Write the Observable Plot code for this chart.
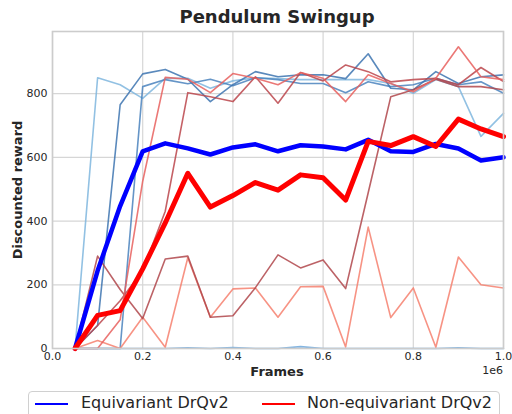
<!DOCTYPE html>
<html>
<head>
<meta charset="utf-8">
<script src="https://cdn.jsdelivr.net/npm/d3@7"></script>
<script src="https://cdn.jsdelivr.net/npm/@observablehq/plot@0.6"></script>
<style>
  html, body { margin: 0; padding: 0; background: #fff; }
  body { font-family: "DejaVu Sans", sans-serif; color: #262626; }
  #wrap { position: relative; width: 512px; height: 414px; overflow: hidden; }
  #chart { position: absolute; left: 0; top: 0; }
  .abs { position: absolute; white-space: nowrap; }
  #title { left: 0; width: 554px; top: 6px; text-align: center; font-size: 18px; font-weight: bold; color: #262626; }
  #xlab { left: 0; width: 554px; top: 364px; text-align: center; font-size: 13px; font-weight: bold; }
  #offset { right: 9px; top: 364px; font-size: 11px; }
  #ylab { left: 17px; top: 190px; font-size: 13px; font-weight: bold; transform: translate(-50%, -50%) rotate(-90deg); }
  #legend { left: 28px; top: 391px; width: 472px; height: 40px; border: 1px solid #d0d0d0; border-radius: 4px; background: #fff; box-sizing: border-box; }
  .sw { position: absolute; top: 11px; width: 33px; height: 1.5px; }
  .lt { position: absolute; top: 1px; font-size: 16px; }
</style>
</head>
<body>
<div id="wrap">
  <div id="chart"></div>
  <div id="title" class="abs">Pendulum Swingup</div>
  <div id="xlab" class="abs">Frames</div>
  <div id="offset" class="abs">1e6</div>
  <div id="ylab" class="abs">Discounted reward</div>
  <div id="legend" class="abs">
    <div class="sw" style="left:6px;background:#0000ff"></div>
    <div class="lt" style="left:52px">Equivariant DrQv2</div>
    <div class="sw" style="left:233px;background:#ff0000"></div>
    <div class="lt" style="left:278px">Non-equivariant DrQv2</div>
  </div>
</div>
<script>
// Frames (x values)
const frames = [50000, 100000, 150000, 200000, 250000, 300000, 350000, 400000, 450000, 500000,
                550000, 600000, 650000, 700000, 750000, 800000, 850000, 900000, 950000, 1000000];

// Equivariant DrQv2 — individual seeds
const eqSeed1 = [0, 850, 828, 785, 848, 848, 817, 840, 850, 847, 844, 844, 844, 844, 832, 801, 844, 822, 666, 738];
const eqSeed2 = [0, 72, 765, 862, 876, 845, 775, 828, 869, 853, 859, 859, 847, 925, 817, 812, 869, 832, 853, 859];
const eqSeed3 = [0, 0, 0, 822, 844, 831, 845, 825, 850, 844, 832, 832, 803, 837, 822, 828, 848, 828, 837, 801];
const eqSeed4 = [0, 0, 0, 0, 0, 2, 0, 3, 0, 0, 6, 0, 0, 0, 0, 0, 0, 2, 0, 0];
// Equivariant DrQv2 — mean
const eqMean = [0, 244, 447, 619, 644, 628, 609, 631, 641, 619, 638, 634, 625, 655, 619, 617, 642, 628, 590, 600];

// Non-equivariant DrQv2 — individual seeds
const neSeed1 = [0, 0, 90, 525, 851, 845, 803, 863, 848, 828, 866, 848, 775, 859, 832, 806, 848, 947, 853, 844];
const neSeed2 = [0, 72, 150, 244, 431, 803, 790, 775, 853, 770, 866, 840, 890, 869, 837, 844, 848, 828, 882, 838];
const neSeed3 = [0, 290, 185, 94, 281, 290, 98, 103, 191, 294, 253, 278, 188, 489, 790, 812, 845, 822, 822, 812];
const neSeed4 = [0, 25, 0, 98, 4, 285, 98, 187, 190, 98, 194, 195, 5, 381, 97, 190, 4, 287, 200, 190];
// Non-equivariant DrQv2 — mean
const neMean = [0, 104, 119, 250, 394, 550, 444, 480, 521, 497, 545, 536, 466, 650, 637, 665, 634, 720, 689, 665];

const yTicks = [0, 200, 400, 600, 800];
const xTicks = [0, 200000, 400000, 600000, 800000, 1000000];

const toRows = (vals) => frames.map((f, i) => ({frame: f, value: vals[i]}));

const thin = [
  [eqSeed4, "#6fa8dc"],
  [eqSeed1, "#7fb6de"],
  [eqSeed3, "#4a82bd"],
  [eqSeed2, "#3d74b0"],
  [neSeed4, "#f6806e"],
  [neSeed3, "#b0464b"],
  [neSeed2, "#bb454b"],
  [neSeed1, "#e8605e"]
];

const chart = Plot.plot({
  width: 512,
  height: 414,
  marginLeft: 52,
  marginRight: 9,
  marginTop: 31,
  marginBottom: 66,
  style: {fontFamily: "DejaVu Sans, sans-serif", fontSize: "11px", color: "#262626", background: "white"},
  x: {domain: [0, 1000000], label: null},
  y: {domain: [0, 995], label: null},
  marks: [
    Plot.gridX(xTicks, {stroke: "#d6d6d6", strokeOpacity: 1, strokeWidth: 1.2}),
    Plot.gridY(yTicks, {stroke: "#d6d6d6", strokeOpacity: 1, strokeWidth: 1.2}),
    Plot.axisX(xTicks, {tickSize: 0, tickPadding: 4, tickFormat: d => (d / 1e6).toFixed(1), fontSize: 11}),
    Plot.axisY(yTicks, {tickSize: 0, tickPadding: 5, tickFormat: d => String(d), fontSize: 11}),
    ...thin.map(([vals, c]) => Plot.line(toRows(vals), {x: "frame", y: "value", stroke: c, strokeWidth: 1.6, strokeOpacity: 0.85})),
    Plot.line(toRows(eqMean), {x: "frame", y: "value", stroke: "#0000ff", strokeWidth: 4.5}),
    Plot.line(toRows(neMean), {x: "frame", y: "value", stroke: "#ff0000", strokeWidth: 5}),
    Plot.frame({stroke: "#cccccc", strokeWidth: 1.6})
  ]
});
document.getElementById("chart").appendChild(chart);
</script>
</body>
</html>
